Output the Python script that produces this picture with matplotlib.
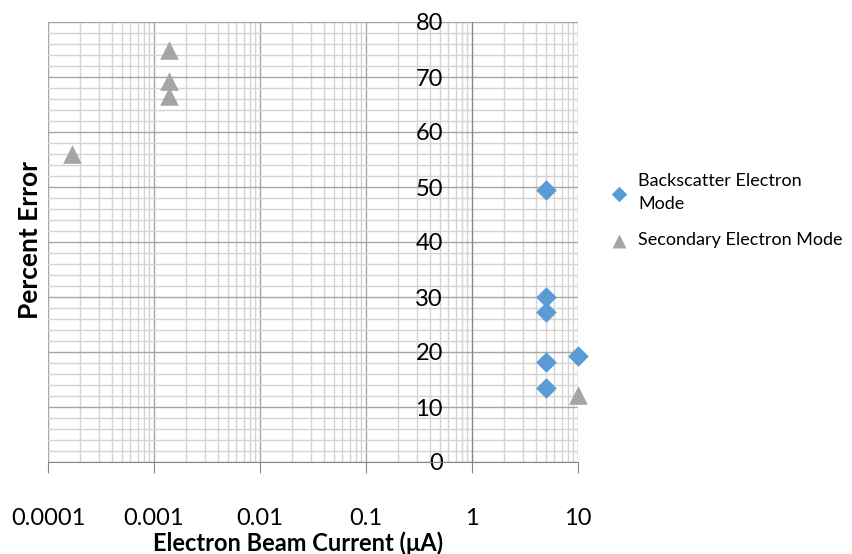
import numpy as np
import matplotlib.pyplot as plt
from matplotlib.ticker import LogLocator, MultipleLocator, FixedLocator

plt.rcParams['font.family'] = ['Lato', 'DejaVu Sans']

# backscatter electron mode
bse_current = [5, 5, 5, 5, 5, 10]
bse_error = [49.4, 30.0, 27.2, 18.2, 13.4, 19.3]
# secondary electron mode
se_current = [0.00017, 0.0014, 0.0014, 0.0014, 10]
se_error = [56.0, 74.9, 69.2, 66.5, 12.2]

xticks = [0.0001, 0.001, 0.01, 0.1, 1, 10]
xticklabels = ['0.0001', '0.001', '0.01', '0.1', '1', '10']

fig = plt.figure(figsize=(8.53, 5.54), dpi=100)
ax = fig.add_axes([48 / 853, 1 - 462 / 554, 530 / 853, 440 / 554])

ax.scatter(bse_current, bse_error, marker='D', s=110, color='#5B9BD5',
           label='Backscatter Electron\nMode', zorder=3, linewidths=0,
           clip_on=False)
ax.scatter(se_current, se_error, marker='^', s=180, color='#A5A5A5',
           label='Secondary Electron Mode', zorder=3, linewidths=0,
           clip_on=False)

ax.set_xscale('log')
ax.set_xlim(0.0001, 10)
ax.set_ylim(0, 80)

ax.xaxis.set_major_locator(FixedLocator(xticks))
ax.set_xticklabels(xticklabels)
ax.xaxis.set_minor_locator(LogLocator(base=10, subs=np.arange(2, 10)))
ax.yaxis.set_major_locator(MultipleLocator(10))
ax.yaxis.set_minor_locator(MultipleLocator(2))

ax.grid(which='major', color='#a6a6a6', linewidth=1.0)
ax.grid(which='minor', color='#d4d4d4', linewidth=1.0)
ax.set_axisbelow(True)

for s in ['top', 'right']:
    ax.spines[s].set_visible(False)
ax.spines['left'].set_position(('data', 1))
ax.spines['left'].set_color('#868686')
ax.spines['bottom'].set_color('#868686')

ax.tick_params(axis='x', which='major', length=8, color='#868686',
               labelsize=17, pad=25)
ax.tick_params(axis='x', which='minor', length=0)
ax.tick_params(axis='y', which='both', length=0, labelsize=17, pad=21)

fig.text(298 / 853, 1 - 543 / 554, 'Electron Beam Current (μA)', fontsize=17,
         fontweight='bold', ha='center', va='center')
fig.text(30 / 853, 1 - 240 / 554, 'Percent Error', rotation=90, fontsize=19,
         fontweight='bold', ha='center', va='center')

leg = ax.legend(loc='upper left', bbox_to_anchor=(1.03, 0.674), frameon=False,
                fontsize=13, handletextpad=0.05, labelspacing=1.1,
                markerscale=0.75, borderaxespad=0)
for t in leg.get_texts():
    t.set_linespacing(1.6)

fig.savefig('out.png', dpi=100)
